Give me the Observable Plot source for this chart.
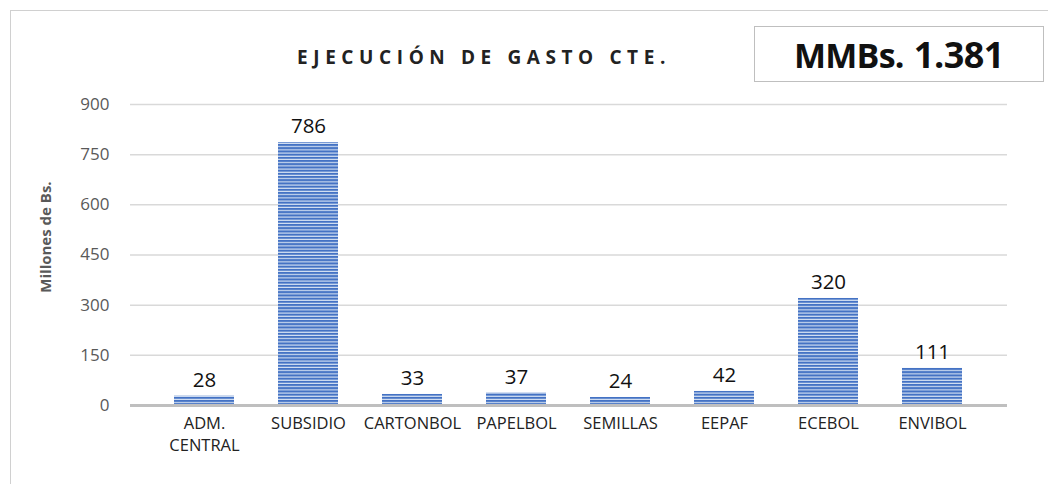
<!DOCTYPE html>
<html><head><meta charset="utf-8">
<script src="https://cdn.jsdelivr.net/npm/d3@7"></script>
<script src="https://cdn.jsdelivr.net/npm/@observablehq/plot@0.6"></script>
<style>
body{margin:0;background:#fff;font-family:"Open Sans",sans-serif;}
#wrap{position:relative;width:1048px;height:484px;overflow:hidden;}
#frame{position:absolute;left:10px;top:10px;width:1050px;height:480px;border:1.5px solid #d0d0d0;box-sizing:border-box;}
#title{position:absolute;left:297px;top:44px;white-space:nowrap;font-weight:bold;font-size:19px;letter-spacing:5.6px;color:#222;}
#box{position:absolute;left:754px;top:26px;width:290px;height:56px;border:1.5px solid #bfbfbf;box-sizing:border-box;text-align:center;line-height:56px;font-weight:bold;color:#111;white-space:nowrap;}
#box .a{font-size:34px;letter-spacing:-0.8px;margin-right:6px;} #box .b{font-size:36px;letter-spacing:-0.5px;}
#ylab{position:absolute;left:45px;top:237px;transform:translate(-50%,-50%) rotate(-90deg);font-weight:bold;font-size:15px;color:#595959;white-space:nowrap;}
#chart{position:absolute;left:0;top:0;}
</style></head><body>
<div id="wrap">
<div id="frame"></div>
<div id="chart"></div>
<div id="title">EJECUCIÓN DE GASTO CTE.</div>
<div id="box"><span class="a">MMBs.</span> <span class="b">1.381</span></div>
<div id="ylab">Millones de Bs.</div>
</div>
<script>
const categories = ["ADM.\nCENTRAL","SUBSIDIO","CARTONBOL","PAPELBOL","SEMILLAS","EEPAF","ECEBOL","ENVIBOL"];
const values = [28,786,33,37,24,42,320,111];
const yTicks = [0,150,300,450,600,750,900];
const data = categories.map((c,i)=>({cat:c,val:values[i]}));

const chart = Plot.plot({
  width:1048, height:484,
  marginLeft:130, marginRight:41, marginTop:104, marginBottom:79,
  style:{fontFamily:"'Open Sans',sans-serif", background:"transparent"},
  x:{domain:categories, padding:0.42, label:null, tickSize:0, tickPadding:12},
  y:{domain:[0,900], ticks:yTicks, label:null, tickSize:0, tickPadding:21},
  marks:[
    Plot.gridY(yTicks.filter(d=>d>0),{stroke:"#d9d9d9",strokeOpacity:1,strokeWidth:1.5}),
    Plot.barY(data,{x:"cat",y:"val",fill:"url(#stripes)"}),
    Plot.ruleY([0],{stroke:"#bfbfbf",strokeWidth:3}),
    Plot.text(data,{x:"cat",y:"val",text:d=>String(d.val),dy:-16,fontSize:20.5,fill:"#111"})
  ]
});
const svg = d3.select(chart);
const defs = svg.insert("defs",":first-child");
const pat = defs.append("pattern").attr("id","stripes").attr("patternUnits","userSpaceOnUse").attr("width",8).attr("height",3.2);
pat.append("rect").attr("width",8).attr("height",3.2).attr("fill","#4472c4");
pat.append("rect").attr("y",2.1).attr("width",8).attr("height",1.1).attr("fill","#dce6f5");
svg.selectAll("g[aria-label='y-axis tick label'] text").attr("font-size",17).attr("fill","#595959");
svg.selectAll("g[aria-label='x-axis tick label'] text").each(function(){
  const t = d3.select(this);
  t.attr("font-size",16.5).attr("fill","#222");
  t.selectAll("tspan").each(function(d,i){ if(i>0) d3.select(this).attr("dy","1.3em"); });
});
document.getElementById("chart").appendChild(chart);
</script>
</body></html>
